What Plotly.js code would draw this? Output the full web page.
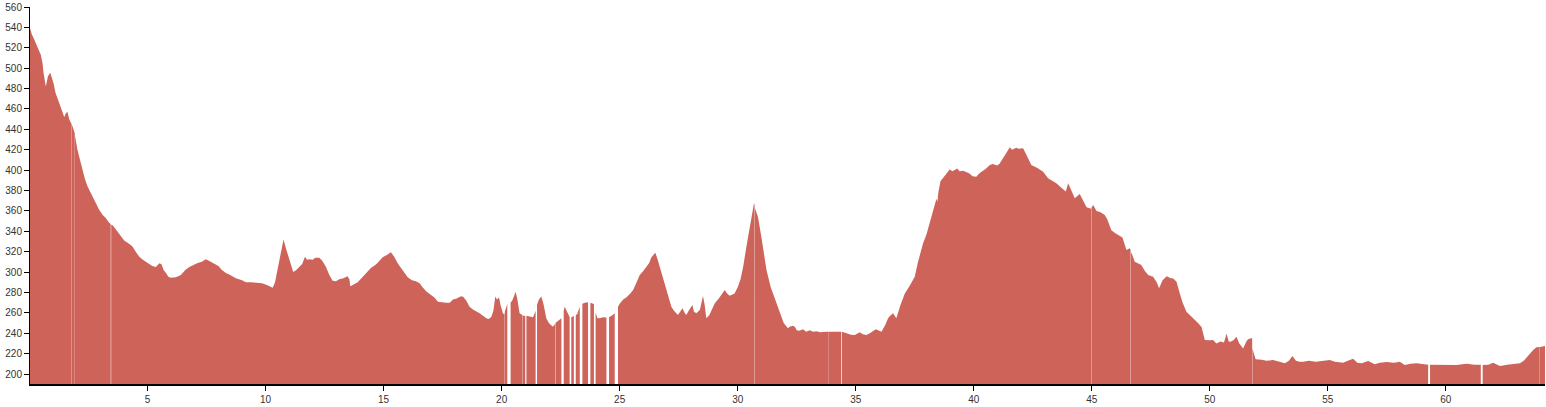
<!DOCTYPE html>
<html>
<head>
<meta charset="utf-8">
<script src="https://cdn.plot.ly/plotly-3.0.1.min.js"></script>
<style>
html,body{margin:0;padding:0;background:#fff;}
#chart{width:1546px;height:407px;}
</style>
</head>
<body>
<div id="chart"></div>
<script>
// Distance along route (km) and elevation (m); null = missing sample (gap in profile)
const distanceKm = [
0.0,0.1,0.2,0.3,0.34,0.48,0.55,0.59,0.69,0.78,0.88,0.95,1.02,1.1,1.19,1.26,1.33,1.4,1.47,1.55,1.61,1.68,1.75,1.785,
1.79,1.795,1.82,1.89,1.916,1.92,1.924,1.96,2.03,2.14,2.25,2.35,2.46,2.6,2.74,2.85,2.95,3.1,3.23,3.35,3.44,
3.45,3.46,3.52,3.62,3.73,3.85,4.01,4.2,4.36,4.5,4.65,4.8,5.0,5.2,5.35,5.5,5.59,5.68,5.78,5.88,5.99,
6.2,6.41,6.6,6.77,6.95,7.12,7.3,7.47,7.6,7.82,8.0,8.15,8.32,8.5,8.74,9.0,9.17,9.4,9.66,9.85,10.08,10.2,10.3,
10.4,10.48,10.6,10.76,10.88,11.0,11.17,11.3,11.43,11.55,11.67,11.76,11.85,12.0,12.1,12.28,12.4,12.56,12.7,12.84,
12.98,13.12,13.3,13.47,13.55,13.59,13.75,13.9,14.1,14.3,14.46,14.7,14.96,15.15,15.31,15.45,15.59,15.8,16.02,16.2,
16.37,16.53,16.65,16.81,17.0,17.15,17.3,17.51,17.65,17.8,17.94,18.1,18.25,18.36,18.5,18.64,18.8,19.07,19.2,19.35,
19.45,19.56,19.65,19.73,19.8,19.89,19.95,20.06,20.126,
20.13,20.134,20.24,
20.31,20.38,20.45,20.52,20.59,20.66,20.76,20.876,
20.88,20.884,21.0,
21.02,21.05,21.2,21.33,21.44,
21.47,21.5,21.58,21.68,21.78,21.89,22.0,22.17,22.265,
22.27,22.28,22.4,22.53,
22.58,22.63,22.67,22.75,22.88,
22.91,22.95,23.06,
23.1,23.14,23.2,23.31,
23.36,23.42,23.52,23.66,
23.71,23.76,23.85,23.91,
23.94,23.98,24.06,24.2,24.29,24.44,
24.5,24.55,24.65,24.79,
24.86,24.93,25.0,25.15,25.28,25.45,25.57,25.7,25.85,26.0,26.13,26.25,26.34,26.45,26.51,26.6,26.7,26.84,27.0,
27.19,27.3,27.47,27.56,27.66,27.75,27.82,27.95,28.08,28.15,28.25,28.4,28.53,28.6,28.67,28.8,29.03,29.2,29.45,
29.55,29.66,29.87,30.0,30.12,30.23,30.37,30.51,30.6,30.69,30.715,
30.72,30.725,30.86,31.0,31.1,31.22,31.4,31.64,31.8,31.95,32.13,32.2,32.34,32.42,32.5,32.6,32.77,32.9,33.05,
33.2,33.33,33.5,33.76,33.826,
33.83,33.834,34.1,34.39,
34.4,34.42,34.6,34.8,34.96,35.17,35.3,35.45,35.6,35.85,36.09,36.25,36.37,36.45,36.58,36.72,36.9,37.08,37.3,
37.5,37.64,37.85,38.0,38.14,38.3,38.42,38.46,38.5,38.59,38.75,38.98,39.1,39.2,39.3,39.4,39.55,39.7,39.8,39.95,40.11,40.2,40.3,40.5,
40.68,40.8,40.9,41.0,41.1,41.3,41.53,41.62,41.7,41.8,41.9,42.09,42.25,42.44,42.7,42.94,43.15,43.35,43.5,43.7,43.9,44.0,44.15,
44.28,44.49,44.6,44.78,44.975,
44.98,44.985,45.06,45.2,45.35,45.55,45.65,45.83,46.0,46.3,46.47,46.61,46.644,
46.65,46.656,46.7,46.82,47.1,47.25,47.39,47.6,47.75,47.85,48.0,48.17,48.35,48.45,48.59,48.73,48.85,49.01,
49.15,49.29,49.5,49.65,49.79,50.0,50.14,50.28,50.45,50.6,50.71,50.8,50.88,51.0,51.13,51.25,51.41,51.55,
51.62,51.75,51.795,
51.8,51.805,51.94,52.2,52.4,52.68,52.9,53.18,53.35,53.5,53.65,53.81,53.96,54.2,54.5,54.8,55.08,55.3,55.65,
55.85,56.07,56.25,56.43,56.71,56.99,57.2,57.49,57.8,58.05,58.26,58.5,58.76,59.0,59.25,
59.29,59.33,59.6,59.9,60.2,60.45,60.7,60.9,61.2,61.48,
61.52,61.56,61.8,62.0,62.29,62.6,62.85,63.14,63.3,63.42,63.55,63.7,63.84,63.975,
63.98,63.985,64.1,64.2
];
const elevationM = [
541,533,528,522,519.5,513,505,496,482,492,495.5,491,485,476,470,467,462,457,452,456,457,450,446,445,
null,444,443,438,436,null,434,428,420,410,400,391,384,377,371,365,361,356,353,349,347,
null,346.5,346,343,339.6,335,331,328,325,320,315,312,308.6,306,305,308.6,307.6,302,299,295.5,294.5,
295,297,302,305,307,309,310,312.5,311,308.6,306,302,299,297,294,292,290,290,289.6,289,287,286,284.5,
290,299,315,332,322,312,300,302,305,308,315,312,312.5,312,314,314,311,305,297,291.5,
291,293,294,296,293,286,288,290,295,300,304,308,314.5,317,319.5,315,309,302,295,292,
291,289,285,281,278,275,271,270,270,270,273,274,276,276,272,266,263,259.5,257,254.6,
254,256,262,276,273,275,268,259,259,
null,261,269,
null,270,272,276,280.7,274,259.5,258,
null,257.5,257,
null,257.2,256,255.6,262,
null,268,273,276,268,254.6,250,246.4,249,
null,250,252,254.6,
null,262,266,262,256,
null,255.6,257,
null,258,258.5,266,
null,269,270,270.5,
null,270,269,268.7,
null,260,254.6,255,255.6,255.5,
null,256,257,259.5,
null,266,269,273,275,279,282.4,289,297,301,304.6,309,314.4,317,319,313,305,295.5,283,
266,262,257.8,261,264.4,260,257.8,263,267.7,261,259.5,263,276.5,268,254.6,258,269.3,274,282.4,
279,276.8,279,285,293,305,325,344.5,358,367.4,366,
null,363,354,335,318,302,285,269,260,250,245,246.4,247.4,246.4,243,242.5,243.8,241.5,243,
241.5,242,241,241.5,241.5,
null,241.5,241.5,241.5,
null,241.5,240,238.5,238.2,240.9,239,238.2,240,243.8,241.5,248,254.6,257,259.5,254.6,268,279,287,
295.5,310,328,337,348,360,372,369,378,389,394,400.7,399,400,401.5,399,399.4,398,397,394,393.5,396,398,401,
405,406,405,404.5,406.6,414,422.4,420,421,422,421,421.4,414,405,402,398.5,392,389,387,383,379,387,379,
372.3,376.5,371,363.5,362,
null,363,365.8,360,359,356,352,341,338,334,321.6,323.3,322,
null,319,318,310,307,301,297,295.5,290,284,292,296,294,293.8,290.6,279,270,261,
258,254.6,250,246,233.3,233,233.3,230,232,231,239.8,232,231.7,233,236.6,230,225,232,
234,235,235,
null,225,214.4,214,213,213.7,212,210.5,213,217.6,213,212,212,213,212,213,213.7,212,211,
213,215,211,210.5,212.7,209.5,211,211.8,211,212,208.8,210,210.5,209.5,209,
null,209,208.8,209,209,208.8,209.5,210,209,209,
null,208.8,209,211,207.8,209,209.8,210.5,213,216.4,220,223.5,226.2,226.5,
null,226.6,227,227.4
];
const yTickValues = [200,220,240,260,280,300,320,340,360,380,400,420,440,460,480,500,520,540,560];
const xTickValues = [5,10,15,20,25,30,35,40,45,50,55,60];

// split into continuous segments at missing samples
const traces = [];
let sx = [], sy = [];
function flush(){
  if (sx.length > 1) {
    traces.push({
      x: sx, y: sy, type: 'scatter', mode: 'lines',
      fill: 'tozeroy', fillcolor: 'rgb(206,99,90)',
      line: {width: 0, color: 'rgb(206,99,90)'},
      hoverinfo: 'skip', showlegend: false
    });
  }
  sx = []; sy = [];
}
for (let i = 0; i < distanceKm.length; i++) {
  if (elevationM[i] === null) { flush(); continue; }
  sx.push(distanceKm[i]); sy.push(elevationM[i]);
}
flush();

const axisFont = {family: 'Liberation Sans, Arial, sans-serif', size: 10, color: '#333'};
const layout = {
  width: 1546, height: 407,
  margin: {l: 30, r: 1, t: 7, b: 23, pad: 0},
  paper_bgcolor: '#fff', plot_bgcolor: '#fff',
  showlegend: false,
  xaxis: {
    range: [0.02, 64.2], tickvals: xTickValues, ticktext: xTickValues.map(String),
    showgrid: false, zeroline: false, showline: true, linecolor: '#000', linewidth: 1.5,
    ticks: 'outside', ticklen: 5, tickcolor: '#000', tickwidth: 1,
    tickfont: axisFont
  },
  yaxis: {
    range: [190.2, 560], tickvals: yTickValues, ticktext: yTickValues.map(String),
    showgrid: false, zeroline: false, showline: true, linecolor: '#000', linewidth: 1,
    ticks: 'outside', ticklen: 5, tickcolor: '#000', tickwidth: 1,
    tickfont: axisFont
  }
};
Plotly.newPlot('chart', traces, layout, {staticPlot: true, displayModeBar: false});
</script>
</body>
</html>
